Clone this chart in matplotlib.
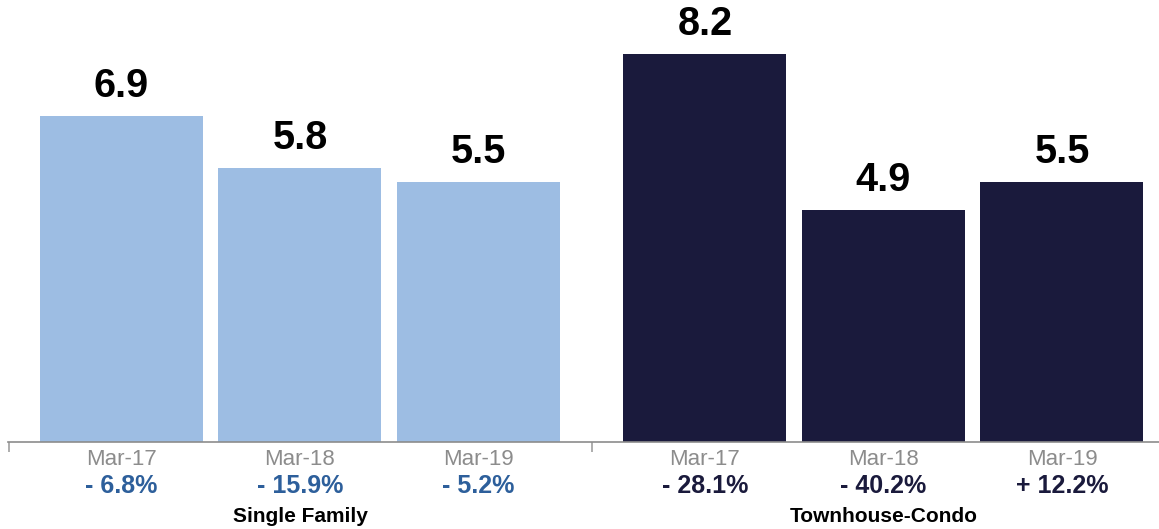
import matplotlib
matplotlib.use("Agg")
import matplotlib.pyplot as plt

plt.rcParams['font.family'] = ['Liberation Sans', 'DejaVu Sans']

groups = ['Single Family', 'Townhouse-Condo']
months = ['Mar-17', 'Mar-18', 'Mar-19']
values = [[6.9, 5.8, 5.5], [8.2, 4.9, 5.5]]
changes = [['- 6.8%', '- 15.9%', '- 5.2%'], ['- 28.1%', '- 40.2%', '+ 12.2%']]

bar_colors = ['#9dbde3', '#1a1a3c']
pct_colors = ['#2d5f9b', '#1a1a3c']

fig = plt.figure(figsize=(11.59, 5.29), dpi=100)
ax = fig.add_axes([8 / 1159, 1 - 442 / 529, 1 - 8 / 1159, 442 / 529])
ax.set_xlim(8, 1159)
ax.set_ylim(0, 442 / 47.3)

spacing = 178.5
group_start = [121.5, 705]
width = 163

for g in range(2):
    xs = [group_start[g] + i * spacing for i in range(3)]
    ax.bar(xs, values[g], width=width, color=bar_colors[g], zorder=2)
    for i, x in enumerate(xs):
        ax.text(x, values[g][i] + 0.40, f'{values[g][i]:.1f}', ha='center', va='baseline',
                fontsize=28.5, fontweight='bold', color='black')
        ax.text(x, -0.36, months[i], ha='center', va='center', fontsize=16,
                color='#8c8c8c', clip_on=False)
        ax.text(x, -0.93, changes[g][i], ha='center', va='center', fontsize=18,
                fontweight='bold', color=pct_colors[g], clip_on=False)
    ax.text(xs[1], -1.58, groups[g], ha='center', va='center', fontsize=15,
            fontweight='bold', color='black', clip_on=False)

# baseline with group separators
for side in ['top', 'right', 'left']:
    ax.spines[side].set_visible(False)
ax.spines['bottom'].set_color('#8c8c8c')
ax.spines['bottom'].set_linewidth(1.2)
ax.set_yticks([])
ax.set_xticks([8.5, 592])
ax.set_xticklabels([])
ax.tick_params(axis='x', length=7, width=1.2, color='#a0a0a0')

fig.savefig('out.png', dpi=100)
